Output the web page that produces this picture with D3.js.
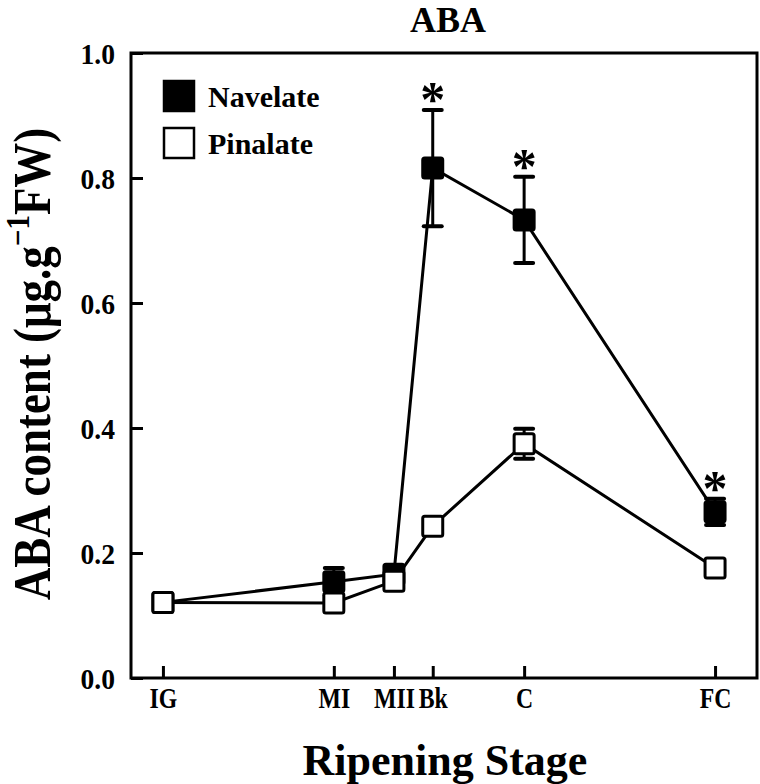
<!DOCTYPE html>
<html><head><meta charset="utf-8">
<script src="https://cdn.jsdelivr.net/npm/d3@7"></script>
<style>body{margin:0;background:#fff}svg{display:block}text{font-family:"Liberation Serif","Times New Roman",serif;font-weight:bold;fill:#000}</style>
</head><body>
<svg id="c" width="760" height="784"></svg>
<script>
const stages = ["IG","MI","MII","Bk","C","FC"];
const stagePos = [5.1, 32.4, 42.0, 48.2, 62.8, 93.3];
const navelate = [0.121, 0.154, 0.166, 0.816, 0.733, 0.266];
const navelateErr = [0.004, 0.022, 0.006, 0.093, 0.069, 0.021];
const pinalate = [0.121, 0.120, 0.155, 0.243, 0.375, 0.176];
const pinalateErr = [0.004, 0.004, 0.004, 0.005, 0.024, 0.005];
const significant = [false, false, false, true, true, true];
const yTicks = [0.0, 0.2, 0.4, 0.6, 0.8, 1.0];

const svg = d3.select("#c");
const L = 131, R = 757, T = 53, B = 678;
const x = d3.scaleLinear().domain([0, 100]).range([L, R]);
const y = d3.scaleLinear().domain([0, 1]).range([B, T]);

// frame
svg.append("rect").attr("x", L).attr("y", T).attr("width", R - L).attr("height", B - T)
  .attr("fill", "none").attr("stroke", "#000").attr("stroke-width", 3);

// y axis
const yAxis = d3.axisLeft(y).tickValues(yTicks).tickFormat(d3.format(".1f")).tickSize(-12);
const gy = svg.append("g").attr("transform", `translate(${L},0)`).call(yAxis);
gy.select(".domain").remove();
gy.selectAll(".tick line").attr("stroke", "#000").attr("stroke-width", 3);
gy.selectAll(".tick text").style("font-size", "29px").attr("dy", "0.36em")
  .attr("x", -16 / 0.95).attr("transform", "scale(0.95,1.05)");

// x axis
const xAxis = d3.axisBottom(x).tickValues(stagePos).tickFormat((d, i) => stages[i]).tickSize(-12);
const gx = svg.append("g").attr("transform", `translate(0,${B})`).call(xAxis);
gx.select(".domain").remove();
gx.selectAll(".tick line").attr("stroke", "#000").attr("stroke-width", 3);
gx.selectAll(".tick text").style("font-size", "29px").attr("y", 30).attr("dy", 0).attr("transform", "scale(0.82,1)");

// titles
svg.append("text").attr("x", 448).attr("y", 32).attr("text-anchor", "middle").style("font-size", "36px").text("ABA");
svg.append("text").attr("x", 445).attr("y", 775).attr("text-anchor", "middle").style("font-size", "44px").text("Ripening Stage");
const yl = svg.append("text").attr("transform", "translate(50,364) rotate(-90) scale(1,1.15)").attr("text-anchor", "middle").style("font-size", "45px");
yl.append("tspan").text("ABA content (μg.g");
yl.append("tspan").attr("dy", -18).style("font-size", "29px").text("−1");
yl.append("tspan").attr("dy", 18).text("FW)");

const line = d3.line().x((d, i) => x(stagePos[i])).y(d => y(d));
const size = 20;

function drawSeries(vals, errs, fill) {
  const g = svg.append("g");
  g.append("path").datum(vals).attr("d", line).attr("fill", "none").attr("stroke", "#000").attr("stroke-width", 3);
  vals.forEach((v, i) => {
    const cx = x(stagePos[i]);
    const e = errs[i];
    if (e > 0.006) {
      g.append("line").attr("x1", cx).attr("x2", cx).attr("y1", y(v + e)).attr("y2", y(v - e)).attr("stroke", "#000").attr("stroke-width", 3);
      [v + e, v - e].forEach(w => g.append("line").attr("x1", cx - 9).attr("x2", cx + 9).attr("y1", y(w)).attr("y2", y(w)).attr("stroke", "#000").attr("stroke-width", 4).attr("stroke-linecap", "round"));
    }
  });
  g.selectAll("rect.m").data(vals).enter().append("rect").attr("class", "m")
    .attr("x", (d, i) => x(stagePos[i]) - size / 2).attr("y", d => y(d) - size / 2)
    .attr("width", size).attr("height", size).attr("rx", 2)
    .attr("fill", fill).attr("stroke", "#000").attr("stroke-width", 3);
}
drawSeries(navelate, navelateErr, "#000");
drawSeries(pinalate, pinalateErr, "#fff");

// asterisks
navelate.forEach((v, i) => {
  if (!significant[i]) return;
  svg.append("text").attr("x", x(stagePos[i])).attr("y", y(v + navelateErr[i]) + 6)
    .attr("text-anchor", "middle").style("font-size", "50px").text("*");
});

// legend
const legend = [["Navelate", "#000"], ["Pinalate", "#fff"]];
legend.forEach(([name, fill], i) => {
  const ly = 96 + i * 47;
  svg.append("rect").attr("x", 164).attr("y", ly - 15).attr("width", 30).attr("height", 30)
    .attr("fill", fill).attr("stroke", "#000").attr("stroke-width", 2.5);
  svg.append("text").attr("x", 208).attr("y", ly + 11).style("font-size", "30px").text(name);
});
</script>
</body></html>
